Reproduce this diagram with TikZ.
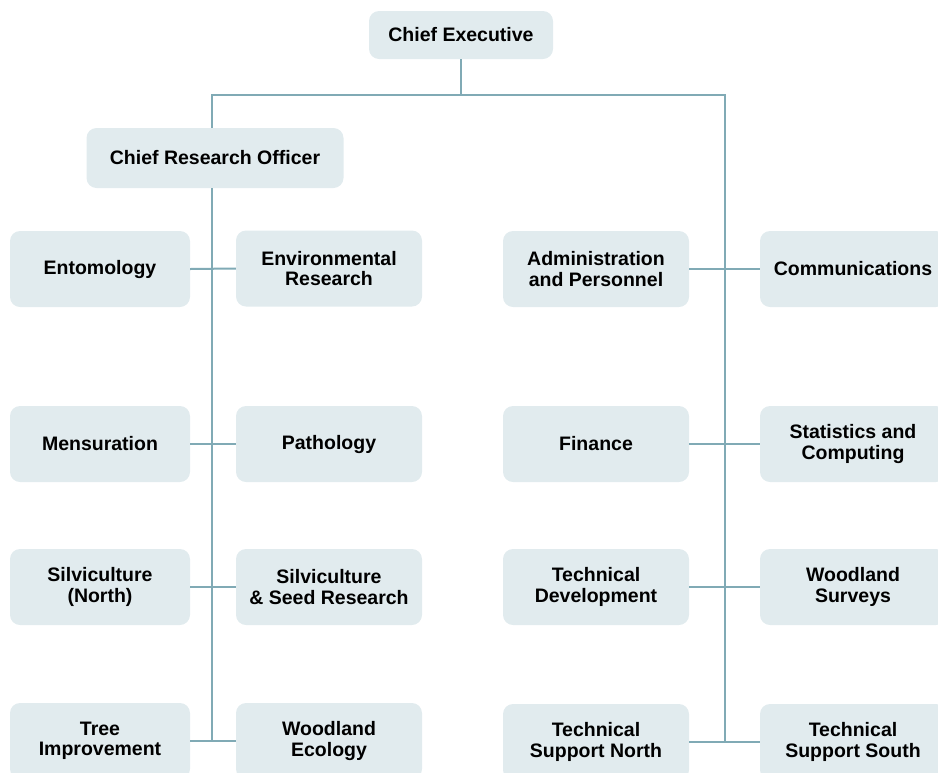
\documentclass[tikz,border=0pt]{standalone}
\usepackage{fontspec}
\setsansfont{Liberation Sans}
\usepackage{tikz}
\usetikzlibrary{
  calc,
  positioning,
}
\definecolor{boxfill}{RGB}{225, 235, 238}
\definecolor{linkline}{RGB}{128, 170, 181}
\tikzstyle{unit} = [
  rectangle,
  rounded corners=10pt,
  fill=boxfill,
  inner sep=0pt,
  align=center,
  minimum width=186pt,
  minimum height=76pt,
  font=\sffamily\bfseries\fontsize{19.5}{20.5}\selectfont,
  text=black,
]
\tikzstyle{link} = [
  line width=2pt,
  linkline,
]

\begin{document}
\begin{tikzpicture}[x=1pt, y=-1pt]
      \clip (0,0) rectangle (938,772);
      \useasboundingbox (0,0) rectangle (938,772);
      % top of the tree
      \node [unit, minimum width=184pt, minimum height=48pt] (ce) at (461,35) {Chief Executive};
      \node [unit, minimum width=257pt, minimum height=60pt] (cro) at (215,158) {Chief Research Officer};
      \coordinate (lbend) at (212,95);
      \coordinate (rbend) at (725,95);
      % research divisions
      \node [unit, minimum width=180pt] (ento) at (100,269) {Entomology};
      \node [unit] (envr) at (329,268.5) {Environmental\\Research};
      \node [unit, minimum width=180pt] (mens) at (100,444) {Mensuration};
      \node [unit] (path) at (329,444) {Pathology};
      \node [unit, minimum width=180pt] (silvn) at (100,587) {Silviculture\\(North)};
      \node [unit] (silvs) at (329,587) {Silviculture\\\& Seed Research};
      \node [unit, minimum width=180pt] (tree) at (100,741) {Tree\\Improvement};
      \node [unit] (wdeco) at (329,741) {Woodland\\Ecology};
      % support divisions
      \node [unit] (admin) at (596,269) {Administration\\and Personnel};
      \node [unit] (comms) at (853,269) {Communications};
      \node [unit] (fin) at (596,444) {Finance};
      \node [unit] (stats) at (853,444) {Statistics and\\Computing};
      \node [unit] (tdev) at (596,587) {Technical\\Development};
      \node [unit] (wdsur) at (853,587) {Woodland\\Surveys};
      \node [unit] (tsn) at (596,742) {Technical\\Support North};
      \node [unit] (tss) at (853,742) {Technical\\Support South};
      % connectors
      \draw [link] (ce.south) -- (ce.south |- lbend);
      \draw [link] (lbend |- cro.north) |- (rbend) -- (rbend |- tss.west);
      \draw [link] (lbend |- cro.south) -- (lbend |- tree.east);
      \foreach \a/\b in {ento/envr, mens/path, silvn/silvs, tree/wdeco,
                         admin/comms, fin/stats, tdev/wdsur, tsn/tss}
        \draw [link] (\a.east) -- (\b.west);
    \end{tikzpicture}
\end{document}
